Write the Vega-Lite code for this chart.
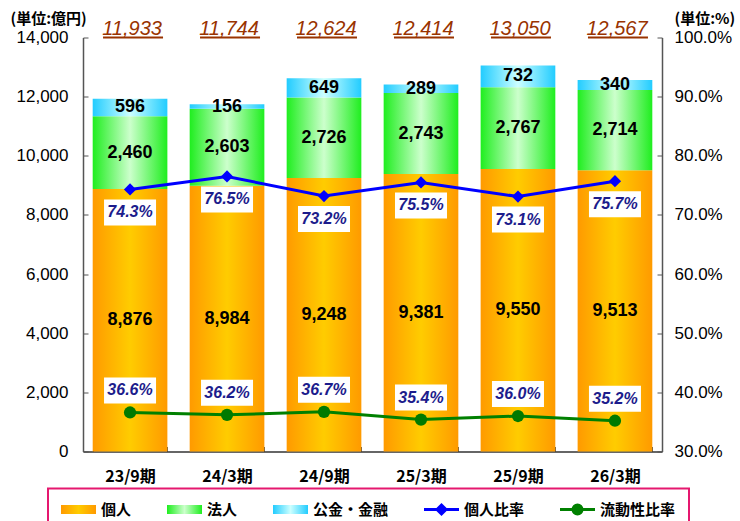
{
  "$schema": "https://vega.github.io/schema/vega-lite/v6.json",
  "width": 579,
  "height": 414,
  "autosize": {"type": "none"},
  "padding": {"left": 83, "top": 37.5, "right": 78, "bottom": 69.5},
  "background": "white",
  "config": {
    "view": {"stroke": null},
    "axis": {"grid": false, "domainColor": "#555555", "tickColor": "#555555", "domainWidth": 1.5, "tickWidth": 1, "tickSize": -5, "labelColor": "black", "labelFont": "Liberation Sans", "labelFontSize": 17, "titleFont": "Noto Sans CJK JP", "titleFontSize": 15, "titleFontWeight": "bold", "titleColor": "black"},
    "legend": {"orient": "none", "legendX": -35, "legendY": 451, "direction": "horizontal", "padding": 13, "strokeColor": "#e5186f", "strokeWidth": 2, "fillColor": "white", "symbolSize": 100, "symbolStrokeWidth": 3, "labelOffset": 25, "labelFont": "Noto Sans CJK JP", "labelFontSize": 15, "labelFontWeight": "bold", "labelColor": "black", "columnPadding": 29, "symbolOpacity": 1, "labelLimit": 300}
  },
  "datasets": {
    "bars": [
      {"period": "23/9期", "type": "個人", "value": 8876, "order": 1},
      {"period": "23/9期", "type": "法人", "value": 2460, "order": 2},
      {"period": "23/9期", "type": "公金・金融", "value": 596, "order": 3},
      {"period": "24/3期", "type": "個人", "value": 8984, "order": 1},
      {"period": "24/3期", "type": "法人", "value": 2603, "order": 2},
      {"period": "24/3期", "type": "公金・金融", "value": 156, "order": 3},
      {"period": "24/9期", "type": "個人", "value": 9248, "order": 1},
      {"period": "24/9期", "type": "法人", "value": 2726, "order": 2},
      {"period": "24/9期", "type": "公金・金融", "value": 649, "order": 3},
      {"period": "25/3期", "type": "個人", "value": 9381, "order": 1},
      {"period": "25/3期", "type": "法人", "value": 2743, "order": 2},
      {"period": "25/3期", "type": "公金・金融", "value": 289, "order": 3},
      {"period": "25/9期", "type": "個人", "value": 9550, "order": 1},
      {"period": "25/9期", "type": "法人", "value": 2767, "order": 2},
      {"period": "25/9期", "type": "公金・金融", "value": 732, "order": 3},
      {"period": "26/3期", "type": "個人", "value": 9513, "order": 1},
      {"period": "26/3期", "type": "法人", "value": 2714, "order": 2},
      {"period": "26/3期", "type": "公金・金融", "value": 340, "order": 3}
    ],
    "main": [
      {"period": "23/9期", "total": 11933},
      {"period": "24/3期", "total": 11744},
      {"period": "24/9期", "total": 12624},
      {"period": "25/3期", "total": 12414},
      {"period": "25/9期", "total": 13050},
      {"period": "26/3期", "total": 12567}
    ],
    "ratios": [
      {"period": "23/9期", "series": "個人比率", "value": 74.3},
      {"period": "24/3期", "series": "個人比率", "value": 76.5},
      {"period": "24/9期", "series": "個人比率", "value": 73.2},
      {"period": "25/3期", "series": "個人比率", "value": 75.5},
      {"period": "25/9期", "series": "個人比率", "value": 73.1},
      {"period": "26/3期", "series": "個人比率", "value": 75.7},
      {"period": "23/9期", "series": "流動性比率", "value": 36.6},
      {"period": "24/3期", "series": "流動性比率", "value": 36.2},
      {"period": "24/9期", "series": "流動性比率", "value": 36.7},
      {"period": "25/3期", "series": "流動性比率", "value": 35.4},
      {"period": "25/9期", "series": "流動性比率", "value": 36.0},
      {"period": "26/3期", "series": "流動性比率", "value": 35.2}
    ]
  },
  "encoding": {
    "x": {
      "field": "period", "type": "nominal", "sort": null, "title": null,
      "scale": {"domain": ["23/9期", "24/3期", "24/9期", "25/3期", "25/9期", "26/3期"], "paddingInner": 0.23, "paddingOuter": 0.1},
      "axis": {"labelAngle": 0, "tickBand": "extent", "labelFont": "Noto Sans CJK JP", "labelFontWeight": "bold", "labelFontSize": 16, "labelPadding": 22, "domainColor": "#333333"}
    }
  },
  "layer": [
    {
      "layer": [
        {
          "data": {"name": "bars"},
          "transform": [
            {"stack": "value", "groupby": ["period"], "sort": [{"field": "order"}], "as": ["v0", "v1"]}
          ],
          "mark": {"type": "bar", "strokeWidth": 0},
          "encoding": {
            "y": {
              "field": "v1", "type": "quantitative",
              "scale": {"domain": [0, 14000], "nice": false},
              "axis": {"values": [0, 2000, 4000, 6000, 8000, 10000, 12000, 14000], "labelExpr": "format(datum.value, ',')", "labelPadding": 20, "title": "(単位:億円)", "titleAngle": 0, "titleAlign": "left", "titleBaseline": "middle", "titleX": -73, "titleY": -19.5}
            },
            "y2": {"field": "v0"},
            "fill": {
              "field": "type", "type": "nominal", "legend": {"title": null},
              "scale": {
                "domain": ["個人", "法人", "公金・金融", "個人比率", "流動性比率"],
                "range": [
                  {"expr": "{gradient: 'linear', x1: 0, y1: 0, x2: 1, y2: 0, stops: [{offset: 0, color: '#ff9a00'}, {offset: 0.5, color: '#ffcc00'}, {offset: 1, color: '#ff9a00'}]}"},
                  {"expr": "{gradient: 'linear', x1: 0, y1: 0, x2: 1, y2: 0, stops: [{offset: 0, color: '#1fee1f'}, {offset: 0.5, color: '#ccffcc'}, {offset: 1, color: '#1fee1f'}]}"},
                  {"expr": "{gradient: 'linear', x1: 0, y1: 0, x2: 1, y2: 0, stops: [{offset: 0, color: '#22ccff'}, {offset: 0.5, color: '#ccffff'}, {offset: 1, color: '#22ccff'}]}"},
                  "#0000ff",
                  "#008000"
                ]
              }
            }
          }
        },
        {
          "data": {"name": "bars"},
          "transform": [
            {"stack": "value", "groupby": ["period"], "sort": [{"field": "order"}], "as": ["v0", "v1"]},
            {"calculate": "(datum.v0 + datum.v1) / 2", "as": "mid"}
          ],
          "mark": {"type": "text", "font": "Liberation Sans", "fontWeight": "bold", "fontSize": 18, "color": "black", "baseline": "middle"},
          "encoding": {
            "y": {
              "field": "mid", "type": "quantitative",
              "axis": {"values": [0, 2000, 4000, 6000, 8000, 10000, 12000, 14000], "labelExpr": "format(datum.value, ',')", "labelPadding": 20, "title": "(単位:億円)", "titleAngle": 0, "titleAlign": "left", "titleBaseline": "middle", "titleX": -73, "titleY": -19.5}
            },
            "text": {"field": "value", "type": "quantitative", "format": ","}
          }
        },
        {
          "data": {"name": "main"},
          "mark": {"type": "text", "font": "Liberation Sans", "fontStyle": "italic", "fontSize": 20, "color": "#993300", "baseline": "alphabetic", "dy": -3, "dx": 2},
          "encoding": {
            "y": {
              "datum": 14000, "type": "quantitative",
              "axis": {"values": [0, 2000, 4000, 6000, 8000, 10000, 12000, 14000], "labelExpr": "format(datum.value, ',')", "labelPadding": 20, "title": "(単位:億円)", "titleAngle": 0, "titleAlign": "left", "titleBaseline": "middle", "titleX": -73, "titleY": -19.5}
            },
            "text": {"field": "total", "type": "quantitative", "format": ","}
          }
        },
        {
          "data": {"name": "main"},
          "mark": {"type": "tick", "orient": "horizontal", "size": 60, "thickness": 1.8, "color": "#993300", "opacity": 1, "xOffset": 3},
          "encoding": {
            "y": {
              "datum": 14000, "type": "quantitative",
              "axis": {"values": [0, 2000, 4000, 6000, 8000, 10000, 12000, 14000], "labelExpr": "format(datum.value, ',')", "labelPadding": 20, "title": "(単位:億円)", "titleAngle": 0, "titleAlign": "left", "titleBaseline": "middle", "titleX": -73, "titleY": -19.5}
            }
          }
        }
      ]
    },
    {
      "encoding": {
        "y": {
          "field": "value", "type": "quantitative",
          "scale": {"domain": [30, 100], "nice": false},
          "axis": {"orient": "right", "values": [30, 40, 50, 60, 70, 80, 90, 100], "labelExpr": "format(datum.value, '.1f') + '%'", "labelPadding": 17, "title": "(単位:%)", "titleAngle": 0, "titleAlign": "left", "titleBaseline": "middle", "titleX": 12, "titleY": -19.5}
        }
      },
      "layer": [
        {
          "data": {"name": "ratios"},
          "mark": {"type": "line", "strokeWidth": 3, "color": "#0000ff"},
          "transform": [{"filter": "datum.series === '個人比率'"}],
          "encoding": {}
        },
        {
          "data": {"name": "ratios"},
          "mark": {"type": "point", "shape": "diamond", "size": 150, "filled": true, "color": "#0000ff", "opacity": 1},
          "transform": [{"filter": "datum.series === '個人比率'"}],
          "encoding": {}
        },
        {
          "data": {"name": "ratios"},
          "mark": {"type": "line", "strokeWidth": 3, "color": "#008000"},
          "transform": [{"filter": "datum.series === '流動性比率'"}],
          "encoding": {}
        },
        {
          "data": {"name": "ratios"},
          "mark": {"type": "point", "shape": "circle", "size": 150, "filled": true, "color": "#007a00", "opacity": 1},
          "transform": [{"filter": "datum.series === '流動性比率'"}],
          "encoding": {}
        },
        {
          "data": {"name": "ratios"},
          "transform": [{"filter": "datum.series === '個人比率'"}],
          "mark": {"type": "point", "shape": "M-1,-0.5H1V0.5H-1Z", "size": 2704, "filled": true, "color": "white", "opacity": 1, "yOffset": 23},
          "encoding": {}
        },
        {
          "data": {"name": "ratios"},
          "transform": [{"filter": "datum.series === '流動性比率'"}],
          "mark": {"type": "point", "shape": "M-1,-0.5H1V0.5H-1Z", "size": 2704, "filled": true, "color": "white", "opacity": 1, "yOffset": -22},
          "encoding": {}
        },
        {
          "data": {"name": "ratios"},
          "transform": [{"filter": "datum.series === '個人比率'"}, {"calculate": "format(datum.value, '.1f') + '%'", "as": "label"}],
          "mark": {"type": "text", "font": "Liberation Sans", "fontStyle": "italic", "fontWeight": "bold", "fontSize": 16, "color": "#1c1c8c", "baseline": "middle", "yOffset": 23},
          "encoding": {"text": {"field": "label"}}
        },
        {
          "data": {"name": "ratios"},
          "transform": [{"filter": "datum.series === '流動性比率'"}, {"calculate": "format(datum.value, '.1f') + '%'", "as": "label"}],
          "mark": {"type": "text", "font": "Liberation Sans", "fontStyle": "italic", "fontWeight": "bold", "fontSize": 16, "color": "#1c1c8c", "baseline": "middle", "yOffset": -22},
          "encoding": {"text": {"field": "label"}}
        },
        {
          "data": {"name": "ratios"},
          "transform": [{"filter": "false"}],
          "mark": {"type": "point", "filled": true, "size": 100},
          "encoding": {
            "fill": {"field": "type", "type": "nominal", "legend": {"title": null}},
            "stroke": {
              "field": "type", "type": "nominal", "legend": {"title": null},
              "scale": {"domain": ["個人", "法人", "公金・金融", "個人比率", "流動性比率"], "range": ["transparent", "transparent", "transparent", "#0000ff", "#008000"]}
            },
            "shape": {
              "field": "type", "type": "nominal", "legend": {"title": null},
              "scale": {
                "domain": ["個人", "法人", "公金・金融", "個人比率", "流動性比率"],
                "range": [
                  "M-1.5,-0.9H5.5V0.9H-1.5Z",
                  "M-1.5,-0.9H5.5V0.9H-1.5Z",
                  "M-1.5,-0.9H5.5V0.9H-1.5Z",
                  "M-1.5,0H5.5M1.1,0L2,-0.9L2.9,0L2,0.9Z",
                  "M-1.5,0H5.5M1.1,0A0.9,0.9,0,1,1,2.9,0A0.9,0.9,0,1,1,1.1,0Z"
                ]
              }
            }
          }
        }
      ]
    }
  ],
  "resolve": {"scale": {"y": "independent"}}
}
